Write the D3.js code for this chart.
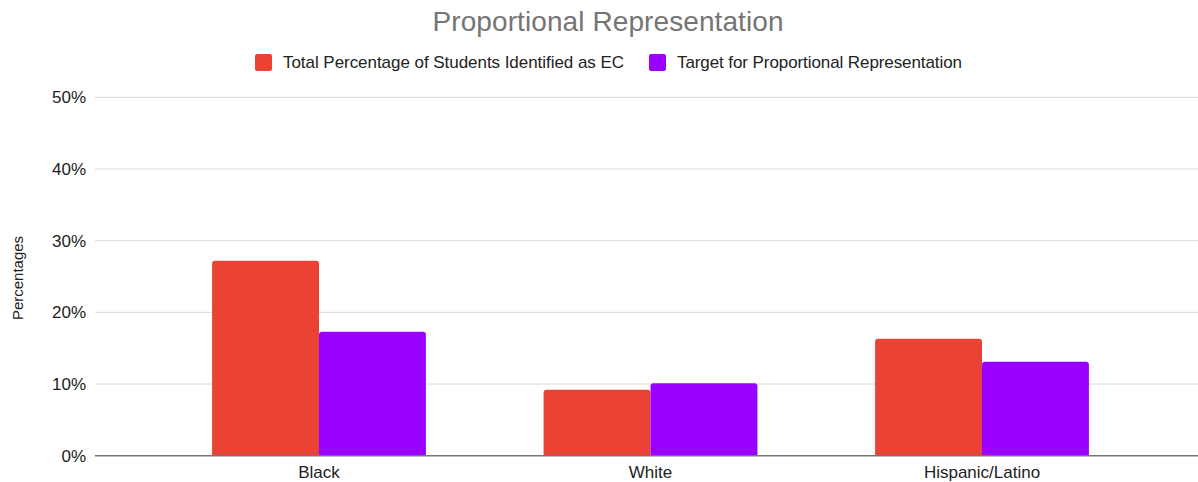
<!DOCTYPE html>
<html>
<head>
<meta charset="utf-8">
<script src="https://cdn.jsdelivr.net/npm/d3@7"></script>
<style>
  html, body { margin: 0; padding: 0; background: #fff; }
  svg { display: block; font-family: "Liberation Sans", Arial, sans-serif; }
</style>
</head>
<body>
<svg id="chart" width="1198" height="482"></svg>
<script>
// Chart data
const categories = ["Black", "White", "Hispanic/Latino"];
const seriesNames = ["Total Percentage of Students Identified as EC", "Target for Proportional Representation"];
const identifiedEC = [27.2, 9.2, 16.3];
const targetRep = [17.3, 10.1, 13.1];
const yTicks = [0, 10, 20, 30, 40, 50];
const colors = ["#ea4335", "#9900ff"];

const svg = d3.select("#chart");

const plot = { left: 95, right: 1198, top: 97.3, bottom: 455.7 };

const y = d3.scaleLinear().domain([0, 50]).range([plot.bottom, plot.top]);

const x = d3.scaleBand()
  .domain(categories)
  .range([153.25, 1147.75])
  .paddingInner(0.355)
  .paddingOuter(0.1775);

const xs = d3.scaleBand().domain([0, 1]).range([0, x.bandwidth()]);

// Title
svg.append("text")
  .attr("x", 608).attr("y", 31)
  .attr("text-anchor", "middle")
  .attr("font-size", 28)
  .attr("fill", "#757575")
  .attr("textLength", 351)
  .text("Proportional Representation");

// Legend
const legendItems = [
  { x: 255, tx: 283, w: 341, name: seriesNames[0], color: colors[0] },
  { x: 649, tx: 677, w: 285, name: seriesNames[1], color: colors[1] }
];
legendItems.forEach(d => {
  svg.append("rect")
    .attr("x", d.x).attr("y", 54).attr("width", 17).attr("height", 17)
    .attr("rx", 2).attr("fill", d.color);
  svg.append("text")
    .attr("x", d.tx).attr("y", 68)
    .attr("font-size", 17).attr("fill", "#222")
    .attr("textLength", d.w)
    .text(d.name);
});

// Gridlines
svg.append("g")
  .selectAll("line")
  .data(yTicks.filter(t => t > 0))
  .join("line")
  .attr("x1", plot.left).attr("x2", plot.right)
  .attr("y1", d => y(d)).attr("y2", d => y(d))
  .attr("stroke", "#d9d9d9").attr("stroke-width", 1);

// Y axis labels
const yAxis = d3.axisLeft(y).tickValues(yTicks).tickSize(0).tickPadding(0)
  .tickFormat(d => d + "%");
const yg = svg.append("g").attr("transform", `translate(86,0)`).call(yAxis);
yg.select(".domain").remove();
yg.selectAll("text").attr("font-size", 17).attr("fill", "#222")
  .attr("font-family", "Liberation Sans, Arial, sans-serif");

// Y axis title
svg.append("text")
  .attr("transform", "translate(23,278) rotate(-90)")
  .attr("text-anchor", "middle")
  .attr("font-size", 15).attr("fill", "#222")
  .text("Percentages");

// Bars with rounded top corners
function barPath(x0, w, yTop, yBase, r) {
  r = Math.min(r, w / 2, (yBase - yTop) / 2);
  return `M${x0},${yBase}V${yTop + r}Q${x0},${yTop} ${x0 + r},${yTop}H${x0 + w - r}Q${x0 + w},${yTop} ${x0 + w},${yTop + r}V${yBase}Z`;
}

const series = [identifiedEC, targetRep];
series.forEach((vals, si) => {
  svg.append("g")
    .selectAll("path")
    .data(categories.map((c, i) => ({ c, v: vals[i] })))
    .join("path")
    .attr("d", d => barPath(x(d.c) + xs(si), xs.bandwidth(), y(d.v), y(0), 3))
    .attr("fill", colors[si]);
});

// Baseline
svg.append("line")
  .attr("x1", plot.left).attr("x2", plot.right)
  .attr("y1", y(0)).attr("y2", y(0))
  .attr("stroke", "#757575").attr("stroke-width", 1.5);

// X axis labels
const xAxis = d3.axisBottom(x).tickSize(0).tickPadding(0);
const xg = svg.append("g").attr("transform", `translate(0,${y(0)})`).call(xAxis);
xg.select(".domain").remove();
xg.selectAll("text").attr("font-size", 17).attr("fill", "#222")
  .attr("font-family", "Liberation Sans, Arial, sans-serif")
  .attr("dy", "1.3em");
</script>
</body>
</html>
